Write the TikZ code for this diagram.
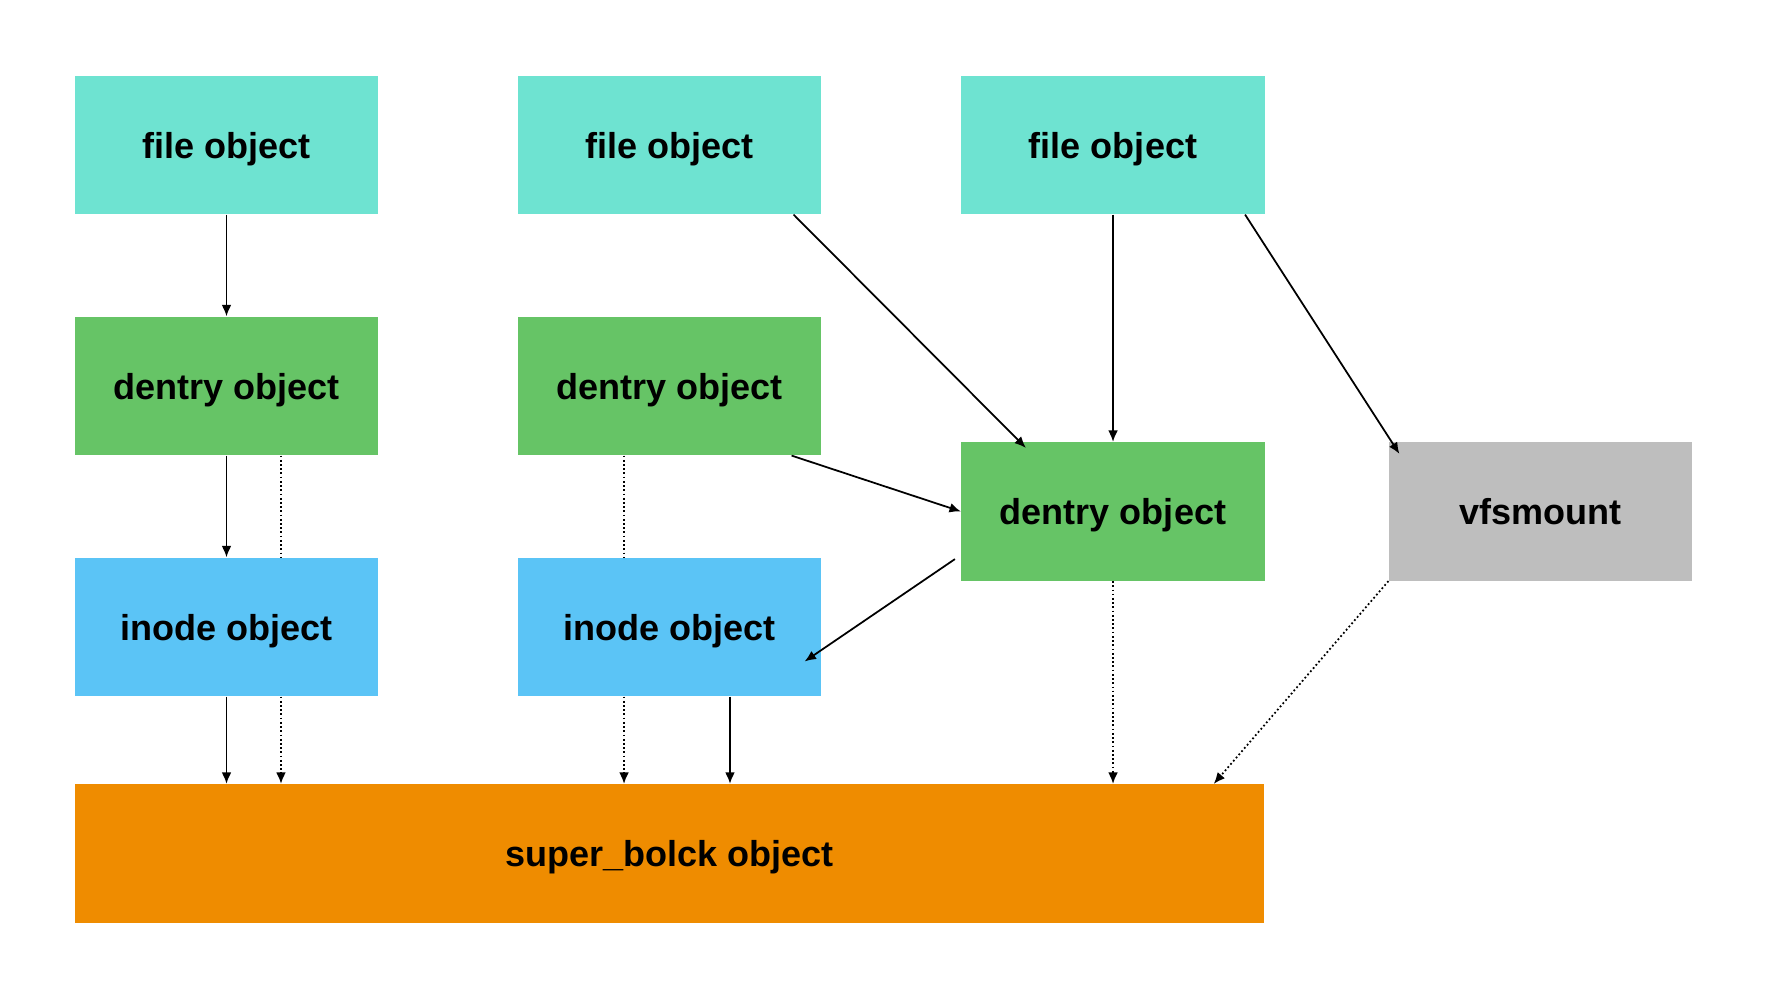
\documentclass[tikz,border=0pt]{standalone}
\usepackage{fontspec}
\setmainfont{Liberation Sans}
\usetikzlibrary{arrows.meta}

\definecolor{filecol}{HTML}{6EE3D1}
\definecolor{dentrycol}{HTML}{66C466}
\definecolor{inodecol}{HTML}{5BC4F6}
\definecolor{supercol}{HTML}{EF8C00}
\definecolor{mountcol}{HTML}{BEBEBE}

\begin{document}
\begin{tikzpicture}[x=0.02cm, y=-0.02cm,
        box/.style={rectangle, inner sep=0pt, minimum width=6.07cm, minimum height=2.77cm,
                text depth=0pt, font=\fontsize{20.5}{24}\selectfont\bfseries},
        link/.style={-{Latex[length=6.5pt, width=5.5pt]}, line width=1pt},
        weak/.style={line width=1pt, dash pattern=on 1pt off 1.4pt},
        weaklink/.style={weak, -{Latex[length=6.5pt, width=5.5pt]}}]
        \useasboundingbox (0, 0) rectangle (1768, 1000);

        \node[box, fill=filecol] (f1) at (226.5, 145) {file object};
        \node[box, fill=filecol] (f2) at (669.5, 145) {file object};
        \node[box, fill=filecol] (f3) at (1113, 145) {file object};

        \node[box, fill=dentrycol] (d1) at (226.5, 386) {dentry object};
        \node[box, fill=dentrycol] (d2) at (669.5, 386) {dentry object};
        \node[box, fill=dentrycol] (d3) at (1113, 511.5) {dentry object};
        \node[box, fill=mountcol] (vfs) at (1540.5, 511.5) {vfsmount};

        \node[box, fill=inodecol] (i1) at (226.5, 627) {inode object};
        \node[box, fill=inodecol] (i2) at (669.5, 627) {inode object};

        \node[box, fill=supercol, minimum width=23.8cm] (sb) at (669.5, 853.5) {super\_bolck object};

        % file -> dentry / vfsmount
        \draw[link] (f1) to (d1);
        \draw[link] ([xshift=-0.56cm]f2.south east) to ([xshift=1.3cm, yshift=-0.12cm]d3.north west);
        \draw[link] (f3) to (d3);
        \draw[link] ([xshift=-0.4cm]f3.south east) to ([xshift=0.22cm, yshift=-0.24cm]vfs.north west);

        % dentry -> dentry / inode
        \draw[link] ([xshift=-0.6cm]d2.south east) to (d3.west);
        \draw[link] ([xshift=-0.12cm, yshift=0.44cm]d3.south west) to ([xshift=-0.34cm, yshift=-0.69cm]i2.east);
        \draw[link] (d1) to (i1);
        \draw[weak] ([xshift=1.09cm]d1.south) to ([xshift=1.09cm]i1.north);
        \draw[weak] ([xshift=-0.91cm]d2.south) to ([xshift=-0.91cm]i2.north);

        % everything -> super block
        \draw[link] (i1.south) to (i1.south |- sb.north);
        \draw[weaklink] ([xshift=1.09cm]i1.south) to ([xshift=1.09cm]i1.south |- sb.north);
        \draw[weaklink] ([xshift=-0.91cm]i2.south) to ([xshift=-0.91cm]i2.south |- sb.north);
        \draw[link] ([xshift=1.21cm]i2.south) to ([xshift=1.21cm]i2.south |- sb.north);
        \draw[weaklink] (d3.south) to (d3.south |- sb.north);
        \draw[weaklink] (vfs.south west) to ([xshift=-1.02cm]sb.north east);
    \end{tikzpicture}
\end{document}
